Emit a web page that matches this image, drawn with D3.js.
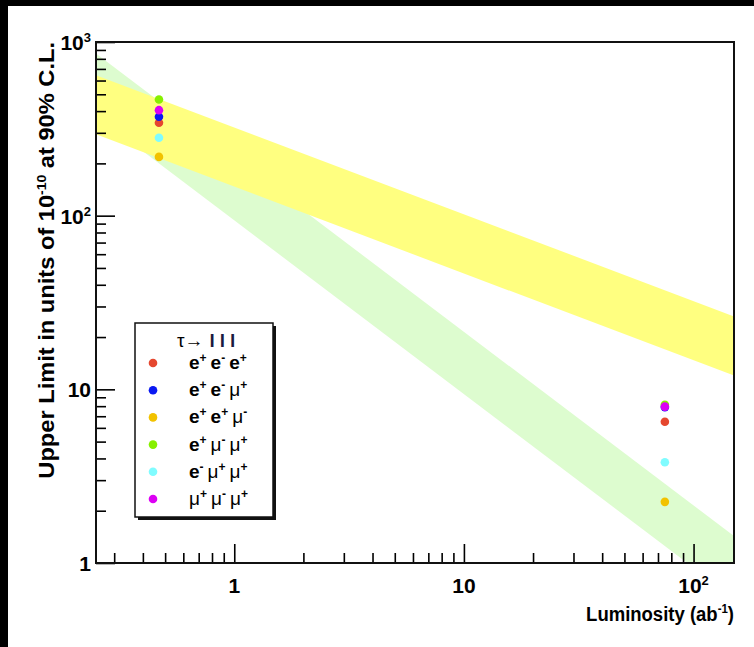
<!DOCTYPE html>
<html>
<head>
<meta charset="utf-8">
<script src="https://cdn.jsdelivr.net/npm/d3@7"></script>
<style>
  html, body { margin: 0; padding: 0; background: #000; }
  svg { display: block; }
  text { font-family: "Liberation Sans", Arial, Helvetica, sans-serif; }
</style>
</head>
<body>
<svg id="chart" width="754" height="647"></svg>
<script>
// Luminosity axis (ab^-1) and upper-limit axis (units of 1e-10)
const xDomain = [0.25, 150];
const yDomain = [1, 1000];
const xMajorTicks = [1, 10, 100];
const yMajorTicks = [1, 10, 100, 1000];

// Measured / projected luminosities
const luminosities = [0.47, 75];

// Decay channels tau -> lll, each particle as [symbol, charge]
const channels = [
  [["e", "+"], ["e", "-"], ["e", "+"]],
  [["e", "+"], ["e", "-"], ["μ", "+"]],
  [["e", "+"], ["e", "+"], ["μ", "-"]],
  [["e", "+"], ["μ", "-"], ["μ", "+"]],
  [["e", "-"], ["μ", "+"], ["μ", "+"]],
  [["μ", "+"], ["μ", "-"], ["μ", "+"]]
];
const channelColors = ["#e5472f", "#0a18f2", "#f2c200", "#86f000", "#80fcff", "#dc00f4"];

// Upper limits at each luminosity, one list per channel
const limitsAtLow  = [343, 371, 218, 467, 281, 405];
const limitsAtHigh = [6.5, 7.9, 2.25, 8.15, 3.8, 7.95];

// Projection bands: edge values at the two ends of the luminosity range
const bandLumi = [0.25, 150];
const yellowUpper = [644, 26.3];
const yellowLower = [294, 12.0];
const greenUpper  = [858, 1.43];
const greenLower  = [376, 0.626];

const svg = d3.select("#chart");
const W = 754, H = 647;
const frame = { left: 96, right: 734, top: 42, bottom: 563 };

// page background
svg.append("rect").attr("x", 8).attr("y", 6).attr("width", W - 8).attr("height", H - 6).attr("fill", "#fff");

const x = d3.scaleLog().domain(xDomain).range([frame.left, frame.right]);
const y = d3.scaleLog().domain(yDomain).range([frame.bottom, frame.top]);

svg.append("clipPath").attr("id", "plotClip")
  .append("rect")
  .attr("x", frame.left).attr("y", frame.top)
  .attr("width", frame.right - frame.left).attr("height", frame.bottom - frame.top);

const plot = svg.append("g").attr("clip-path", "url(#plotClip)");

// bands are straight in log-log space: polygon through both edges
function band(upper, lower) {
  const pts = [
    [x(bandLumi[0]), y(upper[0])],
    [x(bandLumi[1]), y(upper[1])],
    [x(bandLumi[1]), y(lower[1])],
    [x(bandLumi[0]), y(lower[0])]
  ];
  return d3.line()(pts) + "Z";
}
plot.append("path").attr("d", band(greenUpper, greenLower)).attr("fill", "#ddfccf");
plot.append("path").attr("d", band(yellowUpper, yellowLower)).attr("fill", "#ffff80");

// points
const points = [];
channels.forEach((c, i) => {
  points.push({ lumi: luminosities[0], v: limitsAtLow[i], color: channelColors[i] });
  points.push({ lumi: luminosities[1], v: limitsAtHigh[i], color: channelColors[i] });
});
plot.selectAll("circle.pt").data(points).join("circle")
  .attr("class", "pt")
  .attr("cx", d => x(d.lumi)).attr("cy", d => y(d.v)).attr("r", 4.3)
  .attr("fill", d => d.color);

// ticks
function decadeMinors(domain) {
  const out = [];
  const lo = Math.floor(Math.log10(domain[0])), hi = Math.ceil(Math.log10(domain[1]));
  for (let e = lo; e <= hi; e++) {
    for (let m = 2; m <= 9; m++) {
      const v = m * Math.pow(10, e);
      if (v >= domain[0] && v <= domain[1]) out.push(+v.toPrecision(6));
    }
  }
  return out;
}
const axisG = svg.append("g");
const xMinor = decadeMinors(xDomain);
const yMinor = decadeMinors(yDomain);

axisG.append("g").attr("transform", `translate(0,${frame.bottom})`)
  .call(d3.axisTop(x).tickValues(xMajorTicks).tickSize(19).tickFormat(""))
  .call(g => g.select(".domain").remove());
axisG.append("g").attr("transform", `translate(0,${frame.bottom})`)
  .call(d3.axisTop(x).tickValues(xMinor).tickSize(10).tickFormat(""))
  .call(g => g.select(".domain").remove());
axisG.append("g").attr("transform", `translate(${frame.left},0)`)
  .call(d3.axisRight(y).tickValues(yMajorTicks).tickSize(19).tickFormat(""))
  .call(g => g.select(".domain").remove());
axisG.append("g").attr("transform", `translate(${frame.left},0)`)
  .call(d3.axisRight(y).tickValues(yMinor).tickSize(10).tickFormat(""))
  .call(g => g.select(".domain").remove());
axisG.selectAll(".tick line").attr("stroke", "#000").attr("stroke-width", 1.6);

// frame
svg.append("rect")
  .attr("x", frame.left).attr("y", frame.top)
  .attr("width", frame.right - frame.left).attr("height", frame.bottom - frame.top)
  .attr("fill", "none").attr("stroke", "#111").attr("stroke-width", 2);

// power-of-ten label
function powLabel(sel, v) {
  const e = Math.round(Math.log10(v));
  if (e === 0) sel.text("1");
  else if (e === 1) sel.text("10");
  else {
    sel.append("tspan").text("10");
    sel.append("tspan").attr("dy", -8).attr("font-size", 13).text(e);
  }
}
xMajorTicks.forEach(v => {
  svg.append("text").attr("x", x(v)).attr("y", 593)
    .attr("text-anchor", "middle").attr("font-size", 21).attr("font-weight", "bold")
    .call(powLabel, v);
});
yMajorTicks.forEach(v => {
  svg.append("text").attr("x", 91).attr("y", y(v) + 8)
    .attr("text-anchor", "end").attr("font-size", 21).attr("font-weight", "bold")
    .call(powLabel, v);
});

// x title, condensed to end at the frame edge
const xtG = svg.append("g").attr("transform", `translate(${frame.right},621)`);
const xt = xtG.append("text")
  .attr("text-anchor", "end").attr("font-size", 21).attr("font-weight", "bold");
xt.append("tspan").text("Luminosity (ab");
xt.append("tspan").attr("dy", -8).attr("font-size", 13).text("-1");
xt.append("tspan").attr("dy", 8).text(")");
const xtLen = xt.node().getBBox().width;
xt.attr("transform", `scale(${148 / xtLen},1)`);

// y title, stretched along its run to span most of the axis
const ytG = svg.append("g").attr("transform", `translate(54,${frame.top}) rotate(-90)`);
const yt = ytG.append("text")
  .attr("text-anchor", "end").attr("font-size", 22).attr("font-weight", "bold");
yt.append("tspan").text("Upper Limit in units of 10");
yt.append("tspan").attr("dy", -8).attr("font-size", 13).text("-10");
yt.append("tspan").attr("dy", 8).text(" at 90% C.L.");
const ytLen = yt.node().getBBox().width;
yt.attr("transform", `scale(${437 / ytLen},1)`);

// legend
const lg = { x: 135, y: 323, w: 138, h: 194 };
svg.append("rect").attr("x", lg.x + 3).attr("y", lg.y + 3).attr("width", lg.w).attr("height", lg.h).attr("fill", "#111");
svg.append("rect").attr("x", lg.x).attr("y", lg.y).attr("width", lg.w).attr("height", lg.h)
  .attr("fill", "#fff").attr("stroke", "#111").attr("stroke-width", 1.5);

const title = svg.append("text").attr("x", 177).attr("y", 347).attr("font-size", 19);
title.append("tspan").text("τ→");
title.append("tspan").attr("font-weight", "bold").attr("dx", 6)
  .attr("letter-spacing", 5).attr("fill", "#1a1a40").text("lll");

channels.forEach((c, i) => {
  const cy = 363 + i * 27.2;
  svg.append("circle").attr("cx", 153).attr("cy", cy).attr("r", 4.3).attr("fill", channelColors[i]);
  const t = svg.append("text").attr("x", 189).attr("y", cy + 6).attr("font-size", 19);
  c.forEach(([sym, q], k) => {
    t.append("tspan")
      .attr("dx", k === 0 ? 0 : 4)
      .attr("dy", k === 0 ? 0 : 7)
      .attr("font-size", 19)
      .attr("font-weight", sym === "e" ? "bold" : "normal").text(sym);
    t.append("tspan").attr("dy", -7).attr("font-size", 12).attr("font-weight", "bold")
      .text(q === "-" ? "-" : "+");
  });
});
</script>
</body>
</html>
